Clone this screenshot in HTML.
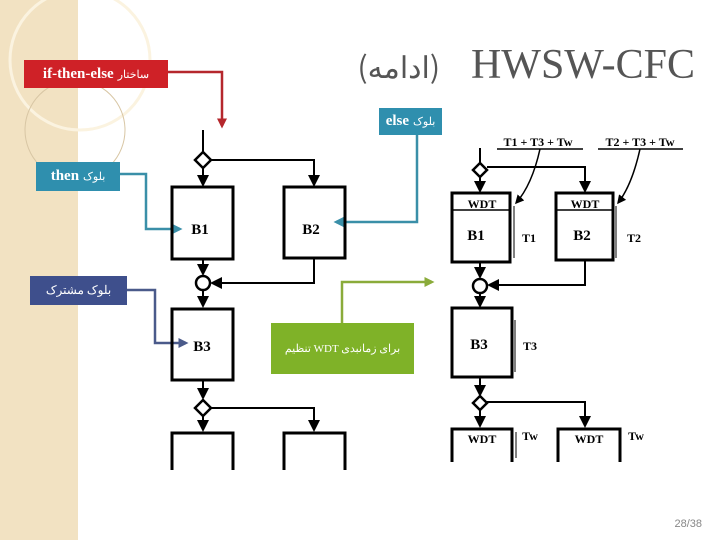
<!DOCTYPE html>
<html><head><meta charset="utf-8"><style>
body{margin:0;width:720px;height:540px;overflow:hidden;background:#fff;position:relative;font-family:"Liberation Serif",serif}
.strip{position:absolute;left:0;top:0;width:78px;height:540px;background:#f2e2c2}
.lab{position:absolute;color:#fff;font-family:"Liberation Serif","Noto Sans CJK SC",serif;font-weight:bold;font-size:15px;display:flex;align-items:center;justify-content:center;white-space:nowrap}
</style></head><body>
<div class="strip"></div>
<svg width="720" height="540" style="position:absolute;left:0;top:0" font-family="Liberation Serif, serif">
<defs>
<marker id="a" markerWidth="6" markerHeight="6" refX="5" refY="3" orient="auto"><path d="M0,0L6,3L0,6z" fill="#000"/></marker>
<marker id="r" markerWidth="4" markerHeight="4" refX="3" refY="2" orient="auto"><path d="M0,0L4,2L0,4z" fill="#b5272c"/></marker>
<marker id="t" markerWidth="4" markerHeight="4" refX="3" refY="2" orient="auto"><path d="M0,0L4,2L0,4z" fill="#3a8fa8"/></marker>
<marker id="n" markerWidth="4" markerHeight="4" refX="3" refY="2" orient="auto"><path d="M0,0L4,2L0,4z" fill="#4a5a8a"/></marker>
<marker id="g" markerWidth="4" markerHeight="4" refX="3" refY="2" orient="auto"><path d="M0,0L4,2L0,4z" fill="#8aab3a"/></marker>
</defs>
<circle cx="80" cy="60" r="70" fill="none" stroke="#fbf3e0" stroke-width="3"/>
<circle cx="75" cy="130" r="50" fill="none" stroke="#d8c6a4" stroke-width="1"/>
<text x="440" y="78" text-anchor="end" font-size="30" fill="#555" font-family="Noto Sans CJK SC, sans-serif">(ادامه)</text>
<text x="695" y="78" text-anchor="end" font-size="42" fill="#555">HWSW-CFC</text>
<g stroke-width="2.5" fill="none">
<path d="M168,72H222V126" stroke="#b5272c" marker-end="url(#r)"/>
<path d="M417,135V222H336" stroke="#3a8fa8" marker-end="url(#t)"/>
<path d="M120,174H146V229H180" stroke="#3a8fa8" marker-end="url(#t)"/>
<path d="M127,290H155V343H186" stroke="#4a5a8a" marker-end="url(#n)"/>
<path d="M342,323V282H432" stroke="#8aab3a" marker-end="url(#g)"/>
</g>
<g stroke="#000" fill="none" stroke-width="2">
<path d="M203,130V152"/><path d="M203,168V185" marker-end="url(#a)"/>
<path d="M195,160L203,152L211,160L203,168Z" stroke-width="2.5"/>
<path d="M211,160H314V185" marker-end="url(#a)"/>
<rect x="172" y="187" width="61" height="72" stroke-width="3"/>
<rect x="284" y="187" width="61" height="71" stroke-width="3"/>
<path d="M203,259V274" marker-end="url(#a)"/>
<circle cx="203" cy="283" r="7" stroke-width="2.5"/>
<path d="M314,258V283H212" marker-end="url(#a)"/>
<path d="M203,290V306" marker-end="url(#a)"/>
<rect x="172" y="309" width="61" height="71" stroke-width="3"/>
<path d="M203,380V398" marker-end="url(#a)"/>
<path d="M195,408L203,400L211,408L203,416Z" stroke-width="2.5"/>
<path d="M203,416V430" marker-end="url(#a)"/><path d="M211,408H314V430" marker-end="url(#a)"/>
<path d="M172,470V433H233V470M284,470V433H345V470" stroke-width="3"/>
<path d="M480,148V163"/><path d="M480,177V191" marker-end="url(#a)"/>
<path d="M473,170L480,163L487,170L480,177Z" stroke-width="2.5"/>
<path d="M487,167H585V191" marker-end="url(#a)"/>
<rect x="452" y="193" width="58" height="69" stroke-width="3"/>
<rect x="556" y="193" width="57" height="67" stroke-width="3"/>
<path d="M452,210H510M556,210H613" stroke-width="1.5"/>
<path d="M514,206V258M616,206V258M515,320V372M516,432V458M620,432V458" stroke-width="1"/>
<path d="M480,262V277" marker-end="url(#a)"/>
<circle cx="480" cy="286" r="7" stroke-width="2.5"/>
<path d="M585,260V285H489" marker-end="url(#a)"/>
<path d="M480,293V306" marker-end="url(#a)"/>
<rect x="452" y="308" width="60" height="69" stroke-width="3"/>
<path d="M480,377V395" marker-end="url(#a)"/>
<path d="M473,403L480,396L487,403L480,410Z" stroke-width="2.5"/>
<path d="M480,410V426" marker-end="url(#a)"/><path d="M487,402H585V426" marker-end="url(#a)"/>
<path d="M452,462V429H512V462M558,462V429H620V462" stroke-width="3"/>
<path d="M497,149H583M598,149H683" stroke-width="1.5"/>
<path d="M540,149Q532,185 516,203" stroke-width="1.5" marker-end="url(#a)"/>
<path d="M640,149Q632,185 618,203" stroke-width="1.5" marker-end="url(#a)"/>
</g>
<g font-weight="bold" font-size="15" text-anchor="middle">
<text x="200" y="234">B1</text><text x="311" y="234">B2</text><text x="202" y="351">B3</text>
<text x="476" y="240">B1</text><text x="582" y="240">B2</text><text x="479" y="349">B3</text>
<g font-size="12"><text x="482" y="208">WDT</text><text x="585" y="208">WDT</text><text x="482" y="443">WDT</text><text x="589" y="443">WDT</text>
<text x="538" y="146">T1 + T3 + Tw</text><text x="640" y="146">T2 + T3 + Tw</text>
<text x="529" y="242">T1</text><text x="634" y="242">T2</text><text x="530" y="350">T3</text><text x="530" y="440">Tw</text><text x="636" y="440">Tw</text></g>
</g>
<text x="702" y="527" text-anchor="end" font-size="11" fill="#888" font-family="Liberation Sans, sans-serif">28/38</text>
</svg>
<div class="lab" style="left:24px;top:60px;width:144px;height:28px;background:#cf2127">if-then-else <span style="font-size:11px;font-weight:normal;margin-left:4px">ساختار</span></div>
<div class="lab" style="left:379px;top:108px;width:63px;height:27px;background:#2f8fae">else <span style="font-size:11px;font-weight:normal;margin-left:4px">بلوک</span></div>
<div class="lab" style="left:36px;top:162px;width:84px;height:29px;background:#2f8fae">then <span style="font-size:11px;font-weight:normal;margin-left:4px">بلوک</span></div>
<div class="lab" style="left:30px;top:276px;width:97px;height:29px;background:#3e4f8c;font-size:12px;font-weight:normal">بلوک مشترک</div>
<div class="lab" style="left:271px;top:323px;width:143px;height:51px;background:#7fb228;font-size:11px;font-weight:normal">تنظیم WDT برای زمانبدی</div>
</body></html>
